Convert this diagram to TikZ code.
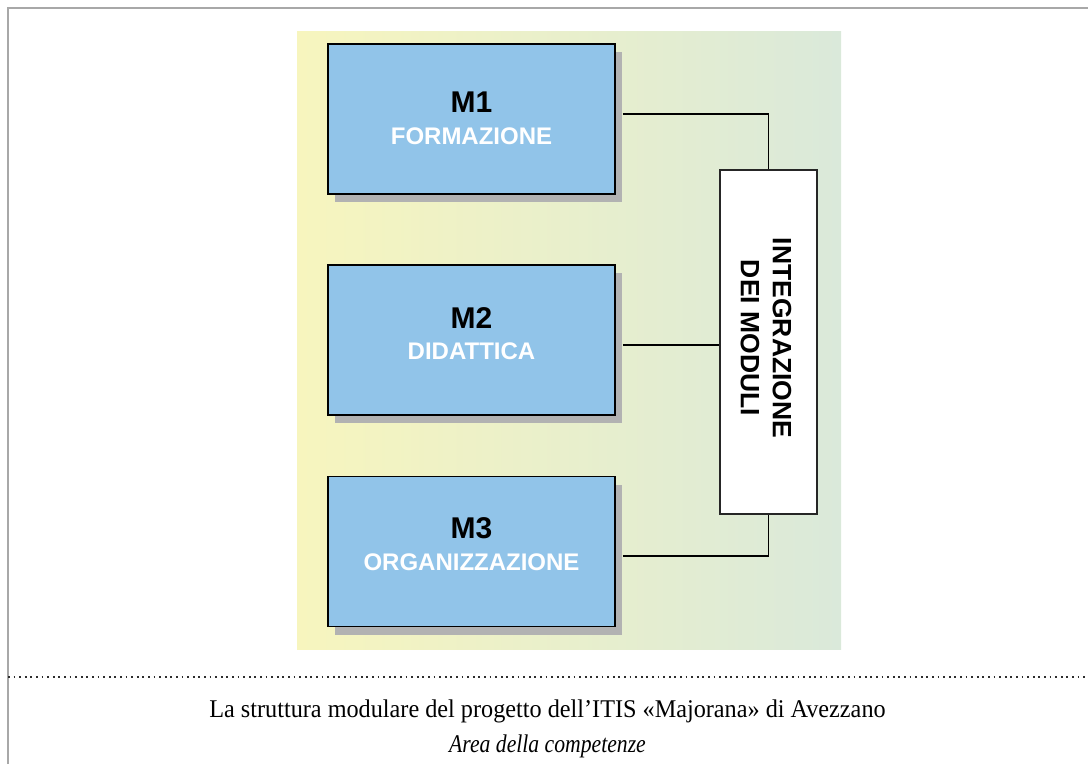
\documentclass[tikz,border=0pt]{standalone}
\usepackage{fontspec}
\setmainfont{Liberation Serif}
\newfontfamily\boxfont{Liberation Sans}
\newfontfamily\capfont[FakeStretch=0.95]{Liberation Serif}
\newfontfamily\capitfont[FakeStretch=0.85]{Liberation Serif}
\usetikzlibrary{shadows}
\definecolor{framegray}{RGB}{168,168,168}
\definecolor{bgyellow}{RGB}{247,245,190}
\definecolor{bggreen}{RGB}{218,233,218}
\definecolor{boxblue}{RGB}{145,196,233}
\definecolor{shadowgray}{RGB}{178,178,178}
\definecolor{dotgray}{RGB}{45,45,45}
\tikzset{
  modbox/.style={draw=black, line width=1.6pt, fill=boxblue, minimum width=287pt, minimum height=150pt, inner sep=0pt,
    drop shadow={shadow xshift=7pt, shadow yshift=-8pt, fill=shadowgray, opacity=1}},
  intbox/.style={draw=black!85, line width=1.6pt, fill=white, minimum width=97pt, minimum height=344pt, inner sep=0pt},
  modtitle/.style={anchor=base, font=\boxfont\bfseries\fontsize{30}{34}\selectfont, text=black, inner sep=0pt},
  modname/.style={anchor=base, font=\boxfont\bfseries\fontsize{24}{28}\selectfont, text=white, inner sep=0pt},
  conn/.style={draw=black, line width=1.6pt},
}
\begin{document}
\begin{tikzpicture}[x=1pt,y=-1pt]
\useasboundingbox (0,0) rectangle (1088,764);
% frame
\draw[framegray, line width=2pt] (8,764) -- (8,8) -- (1088,8);
% gradient background
\shade[left color=bgyellow, right color=bggreen] (297,31) rectangle (841,649);
% modules
\node[modbox] (m1) at (471.5,119) {};
\node[modbox] (m2) at (471.5,340) {};
\node[modbox] (m3) at (471.5,551.5) {};
\node[modtitle] (m1a) at (471.5,112) {M1};
\node[modname]  (m1b) at (471.5,144) {FORMAZIONE};
\node[modtitle] (m2a) at (471.5,328) {M2};
\node[modname]  (m2b) at (471.5,359) {DIDATTICA};
\node[modtitle] (m3a) at (471.5,538) {M3};
\node[modname]  (m3b) at (471.5,570) {ORGANIZZAZIONE};
% integration box
\node[intbox] (integ) at (768.5,342) {};
\node[rotate=-90, align=center, font=\boxfont\bfseries\fontsize{26.5}{32}\selectfont, inner sep=0pt] (integt) at (766,338) {INTEGRAZIONE\\DEI MODULI};
% connectors
\draw[conn] ([xshift=7pt,yshift=5pt]m1.east) -| (integ.north);
\draw[conn] ([xshift=7pt,yshift=-5pt]m2.east) -- ([yshift=-5pt]m2.east -| integ.west);
\draw[conn] ([xshift=7pt,yshift=-4.5pt]m3.east) -| (integ.south);
% dotted separator
\draw[dotgray, line width=2pt, dash pattern=on 1.8pt off 3.8pt] (8,677) -- (1088,677);
% caption
\node[anchor=base, inner sep=0pt, font=\capfont\fontsize{25.5}{30}\selectfont] (cap1) at (547.5,717) {La struttura modulare del progetto dell’ITIS «Majorana» di Avezzano};
\node[anchor=base, inner sep=0pt, font=\capitfont\itshape\fontsize{25.5}{30}\selectfont] (cap2) at (547.5,752) {Area della competenze};
\end{tikzpicture}
\end{document}
